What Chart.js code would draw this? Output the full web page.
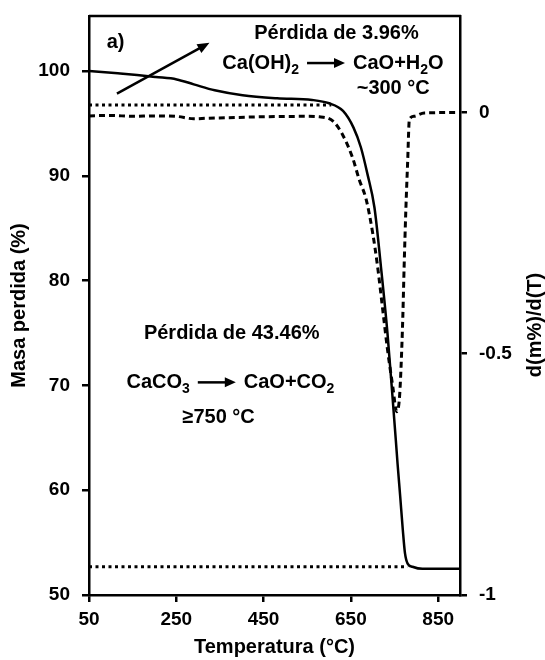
<!DOCTYPE html>
<html lang="es">
<head>
<meta charset="UTF-8" />
<title>Masa perdida vs temperatura</title>
<script src="https://cdn.jsdelivr.net/npm/chart.js@4"></script>
<style>
  body { margin: 0; background: #fff; }
  #wrap { width: 545px; height: 660px; position: relative; }
</style>
</head>
<body>
<div id="wrap"><canvas id="tga"></canvas></div>
<script>
  // curva TG: temperatura (°C) y masa (%)
  const tempTG = [50, 116, 160, 203, 251, 290, 338, 402, 481, 561, 600, 632, 656, 673, 688, 704,
                  719, 734, 746, 753, 757, 763, 769, 774, 780, 791, 814, 900];
  const masaTG = [100, 99.78, 99.62, 99.43, 99.2, 98.73, 98.16, 97.69, 97.4, 97.24, 96.92, 96.19,
                  94.6, 92.7, 90.16, 86.98, 81.27, 74.9, 68.57, 64.76, 62.5, 59.4, 56.2, 53.97,
                  53.0, 52.7, 52.5, 52.5];

  // curva DTG (eje derecho)
  const tempDTG = [50, 100, 150, 200, 250, 290, 320, 362, 442, 545, 578, 609, 631, 654, 669, 685,
                   700, 711, 723, 734, 746, 755, 761, 765, 769, 772, 776, 780, 784, 795, 818, 900];
  const dtg = [-0.007, -0.006, -0.008, -0.007, -0.008, -0.013, -0.012, -0.011, -0.009, -0.008,
               -0.009, -0.018, -0.046, -0.094, -0.139, -0.18, -0.25, -0.318, -0.409, -0.492,
               -0.568, -0.62, -0.595, -0.526, -0.423, -0.319, -0.2, -0.104, -0.0145, -0.0077,
               -0.001, 0];

  // líneas punteadas de referencia
  const refAltaX = [50, 605];
  const refAltaY = [96.75, 96.75];
  const refBajaX = [50, 780];
  const refBajaY = [52.7, 52.7];

  // marcas de los ejes
  const xTicks = [50, 250, 450, 650, 850];
  const yTicks = [50, 60, 70, 80, 90, 100];
  const y2Ticks = [0, -0.5, -1];

  const FONT = "'Liberation Sans', Arial, sans-serif";
  const pts = (xs, ys) => xs.map((x, i) => ({ x, y: ys[i] }));

  const linea = (data, axis, extra) => Object.assign({
    data, yAxisID: axis, borderColor: '#000', borderWidth: 2.5,
    pointRadius: 0, fill: false, cubicInterpolationMode: 'monotone'
  }, extra);

  // texto con subíndices y flecha de reacción
  function formula(ctx, partes, cx, cy) {
    const big = 'bold 20px ' + FONT, small = 'bold 14px ' + FONT;
    const anchoFlecha = 38, hueco = 8;
    const medidas = partes.map(p => {
      if (p.flecha) return anchoFlecha + 2 * hueco;
      ctx.font = p.sub ? small : big;
      return ctx.measureText(p.t).width;
    });
    const total = medidas.reduce((a, b) => a + b, 0);
    let x = cx - total / 2;
    partes.forEach((p, i) => {
      if (p.flecha) {
        const x0 = x + hueco, x1 = x + hueco + anchoFlecha;
        ctx.beginPath();
        ctx.lineWidth = 2.5;
        ctx.moveTo(x0, cy); ctx.lineTo(x1 - 8, cy); ctx.stroke();
        ctx.beginPath();
        ctx.moveTo(x1, cy); ctx.lineTo(x1 - 11, cy - 5); ctx.lineTo(x1 - 11, cy + 5);
        ctx.closePath(); ctx.fill();
      } else {
        ctx.font = p.sub ? small : big;
        ctx.fillText(p.t, x, p.sub ? cy + 7 : cy);
      }
      x += medidas[i];
    });
  }

  const anotaciones = {
    id: 'anotaciones',
    afterDraw(chart) {
      const { ctx, chartArea, scales: { x, y } } = chart;
      const px = v => x.getPixelForValue(v), py = v => y.getPixelForValue(v);
      ctx.save();
      ctx.strokeStyle = '#000';
      ctx.fillStyle = '#000';

      // borde superior del área
      ctx.lineWidth = 2.5;
      ctx.beginPath();
      ctx.moveTo(chartArea.left, chartArea.top);
      ctx.lineTo(chartArea.right + 1, chartArea.top);
      ctx.stroke();

      ctx.textBaseline = 'middle';
      ctx.textAlign = 'center';
      ctx.font = 'bold 20px ' + FONT;
      ctx.fillText('a)', px(111), py(102.76));
      ctx.fillText('Pérdida de 3.96%', px(617), py(103.6));
      ctx.fillText('~300 °C', px(747), py(98.38));
      ctx.fillText('Pérdida de 43.46%', px(377), py(74.95));
      ctx.fillText('≥750 °C', px(347), py(66.95));

      ctx.textAlign = 'left';
      formula(ctx, [{ t: 'Ca(OH)' }, { t: '2', sub: true }, { flecha: true },
        { t: 'CaO+H' }, { t: '2', sub: true }, { t: 'O' }], px(609), py(100.76));
      formula(ctx, [{ t: 'CaCO' }, { t: '3', sub: true }, { flecha: true },
        { t: 'CaO+CO' }, { t: '2', sub: true }], px(374), py(70.29));

      // flecha diagonal
      const x0 = px(114), y0 = py(97.84), x1 = px(326), y1 = py(102.7);
      const ang = Math.atan2(y1 - y0, x1 - x0);
      const c = Math.cos(ang), s = Math.sin(ang);
      ctx.lineWidth = 2.5;
      ctx.beginPath();
      ctx.moveTo(x0, y0);
      ctx.lineTo(x1 - 9 * c, y1 - 9 * s);
      ctx.stroke();
      ctx.beginPath();
      ctx.moveTo(x1, y1);
      ctx.lineTo(x1 - 12 * c + 5 * s, y1 - 12 * s - 5 * c);
      ctx.lineTo(x1 - 12 * c - 5 * s, y1 - 12 * s + 5 * c);
      ctx.closePath();
      ctx.fill();

      // título del eje derecho
      ctx.translate(535, 325);
      ctx.rotate(-Math.PI / 2);
      ctx.textAlign = 'center';
      ctx.font = 'bold 20px ' + FONT;
      ctx.fillText('d(m%)/d(T)', 0, 0);
      ctx.restore();
    }
  };

  const tickFont = { family: FONT, size: 19, weight: 'bold' };
  const titleFont = { family: FONT, size: 20, weight: 'bold' };
  const marcas = { drawOnChartArea: false, tickLength: 7, color: '#000', lineWidth: 2.5 };

  // tamaño fijo de cada eje, sin margen extra por las etiquetas
  const ancho = w => s => { s.width = w; s.paddingTop = 0; s.paddingBottom = 0; };

  new Chart(document.getElementById('tga'), {
    type: 'line',
    data: {
      datasets: [
        linea(pts(tempTG, masaTG), 'y'),
        linea(pts(tempDTG, dtg), 'y2', { borderWidth: 3, borderDash: [6, 4] }),
        linea(pts(refAltaX, refAltaY), 'y', { borderWidth: 3, borderDash: [3, 3.5] }),
        linea(pts(refBajaX, refBajaY), 'y', { borderWidth: 3, borderDash: [3, 3.5] })
      ]
    },
    options: {
      responsive: true,
      maintainAspectRatio: false,
      animation: false,
      layout: { padding: { top: 16 } },
      plugins: { legend: { display: false }, tooltip: { enabled: false } },
      scales: {
        x: {
          type: 'linear', min: 50, max: 900,
          afterBuildTicks: s => { s.ticks = xTicks.map(v => ({ value: v })); },
          afterFit: s => { s.height = 65; s.paddingLeft = 0; s.paddingRight = 0; },
          ticks: { color: '#000', font: tickFont, padding: 6, maxRotation: 0 },
          grid: marcas,
          border: { color: '#000', width: 2.5 },
          title: { display: true, text: 'Temperatura (°C)', color: '#000', font: titleFont, padding: { bottom: 1 } }
        },
        y: {
          position: 'left', min: 50, max: 105.25,
          afterBuildTicks: s => { s.ticks = yTicks.map(v => ({ value: v })); },
          afterFit: ancho(89),
          ticks: { color: '#000', font: tickFont, padding: 12 },
          grid: marcas,
          border: { color: '#000', width: 2.5 },
          title: { display: true, text: 'Masa perdida (%)', color: '#000', font: titleFont, padding: { top: 7 } }
        },
        y2: {
          position: 'right', min: -1, max: 0.2,
          afterBuildTicks: s => { s.ticks = y2Ticks.map(v => ({ value: v })); },
          afterFit: ancho(85),
          ticks: { color: '#000', font: tickFont, padding: 12, callback: v => String(v) },
          grid: marcas,
          border: { color: '#000', width: 2.5, dash: [12, 8] }
        }
      }
    },
    plugins: [anotaciones]
  });
</script>
</body>
</html>
